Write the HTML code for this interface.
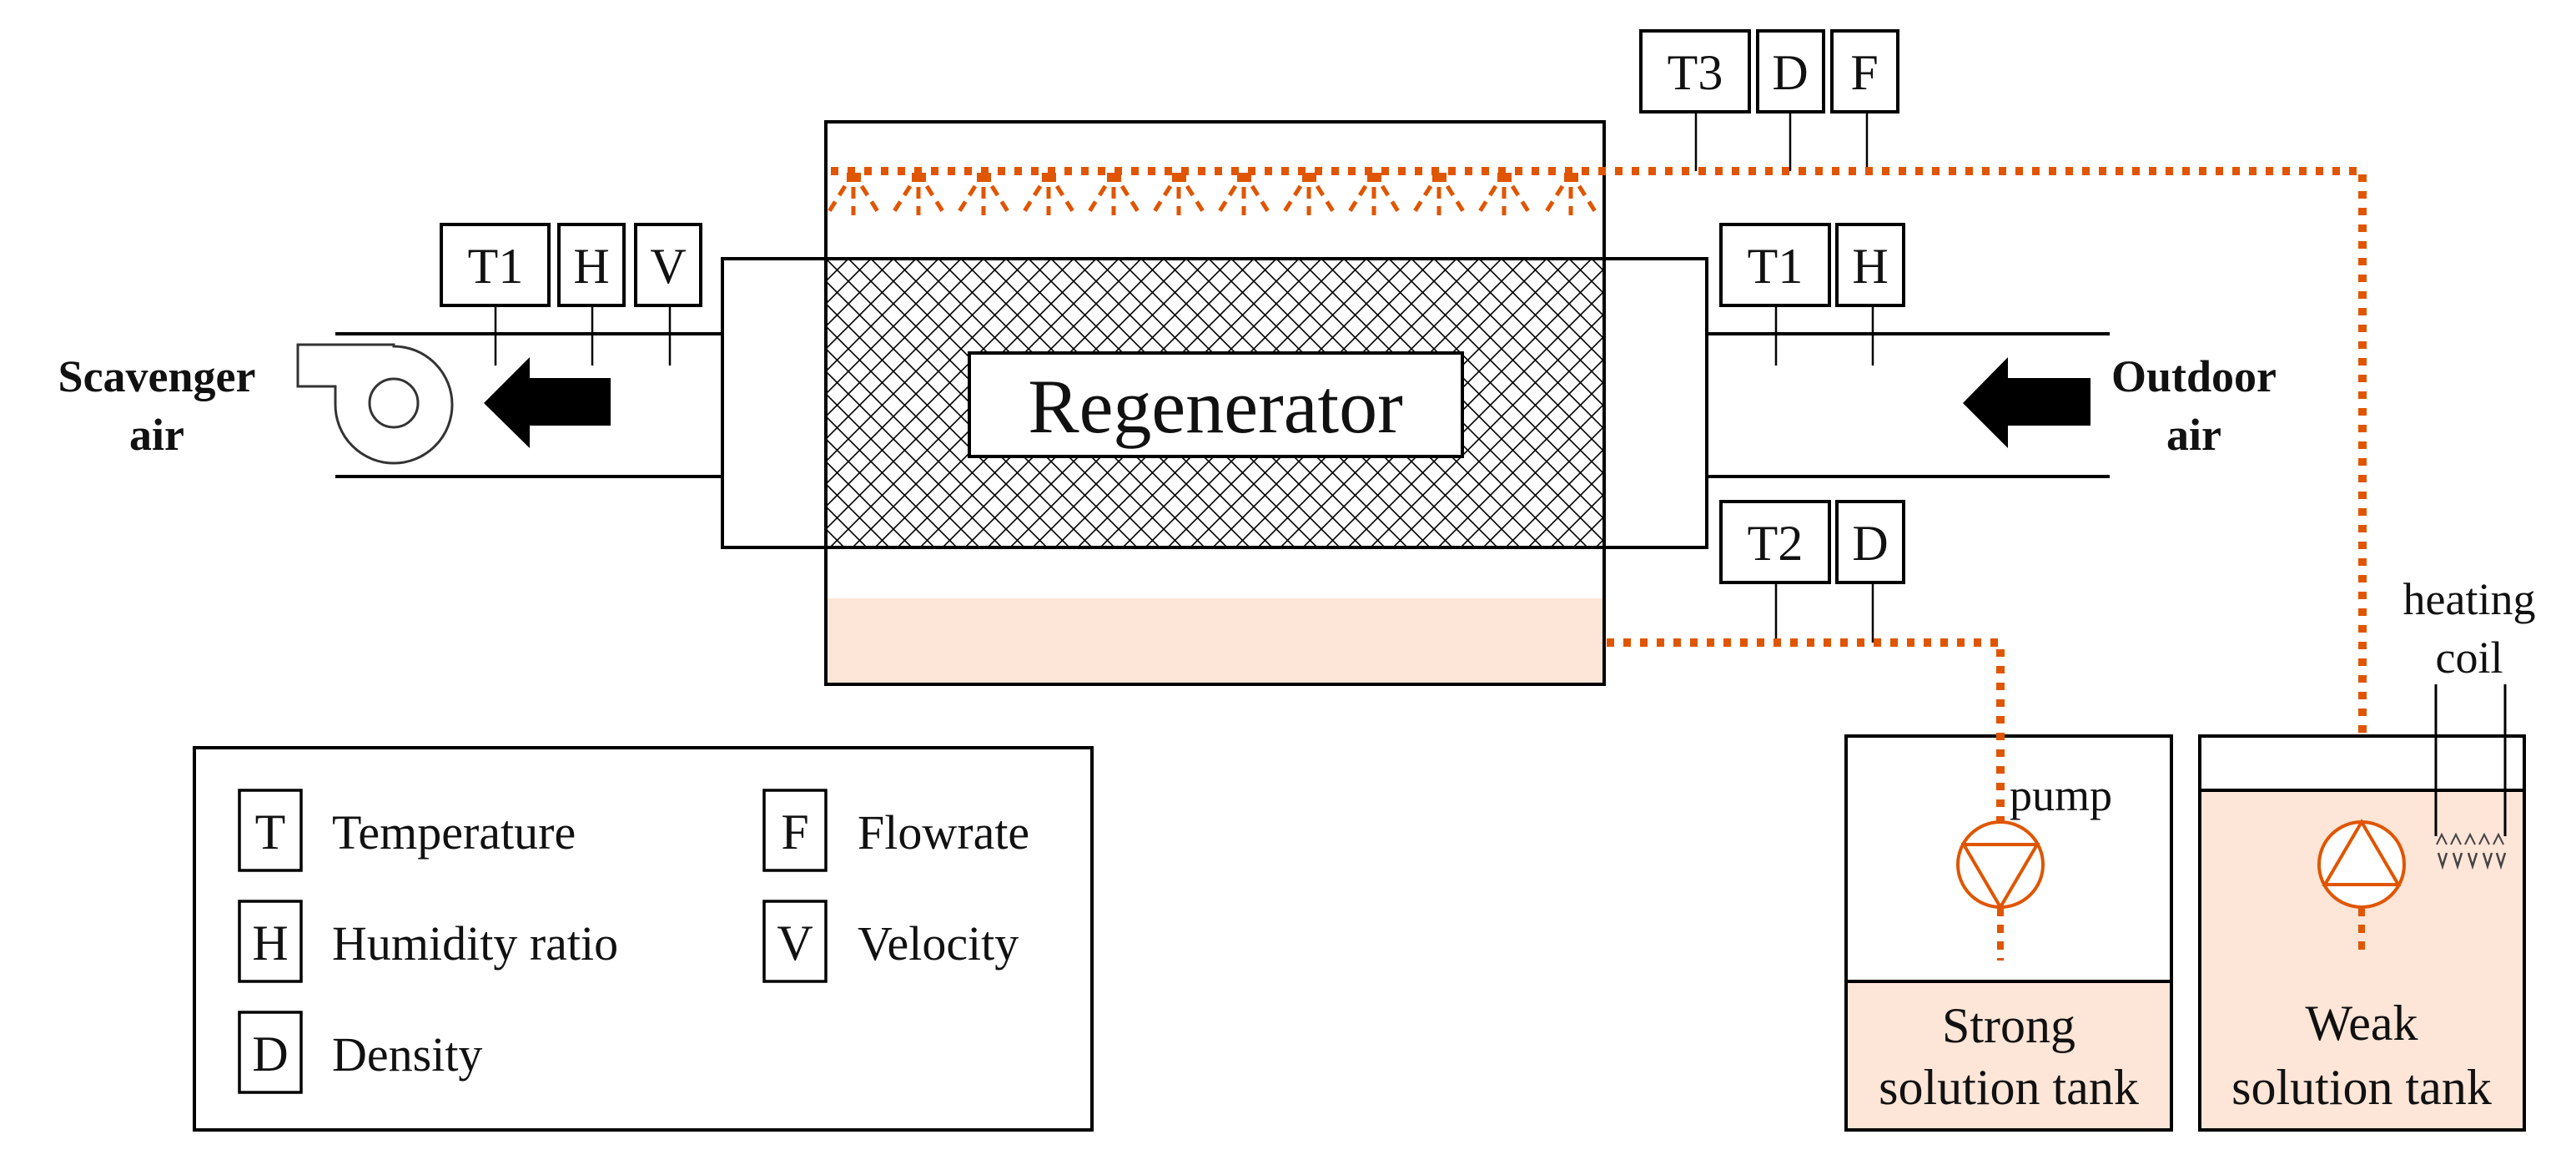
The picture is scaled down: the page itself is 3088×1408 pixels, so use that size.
<!DOCTYPE html>
<html><head><meta charset="utf-8"><style>
html,body{margin:0;padding:0;background:#fff;}
svg{display:block;}
text{font-family:"Liberation Serif",serif;fill:#111;}
</style></head><body>
<svg width="3088" height="1408" viewBox="0 0 3088 1408" xmlns="http://www.w3.org/2000/svg">
<defs>
<pattern id="hatch" x="990" y="310" width="27" height="27" patternUnits="userSpaceOnUse">
<path d="M0,0 L27,27 M27,0 L0,27" stroke="#000" stroke-width="1.6" fill="none"/>
</pattern>
<g id="noz">
<rect x="-8" y="207" width="17" height="11" fill="#e05500"/>
<path d="M0,224 L0,238 M0,247 L0,258" stroke="#e05500" stroke-width="5"/>
<path d="M-10,223 L-32,258" stroke="#e05500" stroke-width="5" stroke-dasharray="13 9"/>
<path d="M10,223 L32,258" stroke="#e05500" stroke-width="5" stroke-dasharray="13 9"/>
</g>
</defs>

<!-- Regenerator -->
<rect x="990" y="146" width="933" height="674" fill="#fff" stroke="#000" stroke-width="4"/>
<rect x="992" y="717" width="929" height="101" fill="#fde5d7"/>
<rect x="990" y="310" width="933" height="346" fill="url(#hatch)" stroke="#000" stroke-width="4"/>
<rect x="990" y="656" width="933" height="164" fill="none" stroke="#000" stroke-width="4"/>
<rect x="1162" y="423" width="591" height="124" fill="#fff" stroke="#000" stroke-width="4"/>
<text x="1457" y="518" font-size="92" text-anchor="middle">Regenerator</text>

<!-- ducts -->
<rect x="866" y="310" width="124" height="346" fill="none" stroke="#000" stroke-width="4"/>
<rect x="1923" y="310" width="123" height="346" fill="none" stroke="#000" stroke-width="4"/>
<path d="M402,400 H866 M402,571 H866 M2046,400 H2529 M2046,571 H2529" stroke="#000" stroke-width="4"/>

<!-- sensors left -->
<g fill="#fff" stroke="#000" stroke-width="4">
<rect x="529" y="269" width="129" height="97"/>
<rect x="670" y="269" width="78" height="97"/>
<rect x="762" y="269" width="78" height="97"/>
<rect x="2063" y="269" width="130" height="97"/>
<rect x="2202" y="269" width="80" height="97"/>
<rect x="2063" y="601" width="130" height="97"/>
<rect x="2202" y="601" width="80" height="97"/>
<rect x="1967" y="37" width="130" height="97"/>
<rect x="2107" y="37" width="79" height="97"/>
<rect x="2196" y="37" width="79" height="97"/>
</g>
<path d="M594,366 V438 M710,366 V438 M803,366 V438 M2129,366 V438 M2245,366 V438 M2129,698 V770 M2245,698 V770 M2033,134 V205 M2146,134 V205 M2238,134 V205" stroke="#000" stroke-width="2.5"/>
<g font-size="60" text-anchor="middle">
<text x="594" y="339">T1</text><text x="709" y="339">H</text><text x="801" y="339">V</text>
<text x="2128" y="339">T1</text><text x="2242" y="339">H</text>
<text x="2128" y="671">T2</text><text x="2242" y="671">D</text>
<text x="2032" y="107">T3</text><text x="2146" y="107">D</text><text x="2235" y="107">F</text>
</g>

<!-- fan -->
<path d="M472,415 A70,70 0 1 1 402,485 V463 H357 V413 H472 Z" fill="#fff" stroke="#333" stroke-width="3"/>
<circle cx="472" cy="483" r="29" fill="#fff" stroke="#333" stroke-width="3"/>
<!-- arrows -->
<path d="M580,483 L635,428 V453 H732 V510 H635 V537 Z" fill="#000"/>
<path d="M2353,483 L2407,428 V453 H2506 V510 H2407 V537 Z" fill="#000"/>
<g font-size="54" font-weight="bold" text-anchor="middle">
<text x="188" y="469">Scavenger</text><text x="188" y="539">air</text>
<text x="2630" y="469">Outdoor</text><text x="2630" y="539">air</text>
</g>

<!-- spray line -->
<path d="M996,205 H2832 V986" stroke="#e05500" stroke-width="10" fill="none" stroke-dasharray="9 11"/>
<g>
<use href="#noz" x="1023"/><use href="#noz" x="1101"/><use href="#noz" x="1179"/><use href="#noz" x="1257"/>
<use href="#noz" x="1335"/><use href="#noz" x="1413"/><use href="#noz" x="1491"/><use href="#noz" x="1569"/>
<use href="#noz" x="1647"/><use href="#noz" x="1725"/><use href="#noz" x="1803"/><use href="#noz" x="1883"/>
</g>

<!-- tanks -->
<rect x="2213" y="882" width="390" height="472" fill="#fff" stroke="#000" stroke-width="4"/>
<rect x="2213" y="1176" width="390" height="178" fill="#fde5d7" stroke="#000" stroke-width="4"/>
<rect x="2637" y="882" width="389" height="472" fill="#fff" stroke="#000" stroke-width="4"/>
<rect x="2637" y="947" width="389" height="407" fill="#fde5d7" stroke="#000" stroke-width="4"/>

<!-- bottom solution line -->
<path d="M1926,770 H2398 V986" stroke="#e05500" stroke-width="10" fill="none" stroke-dasharray="9 11"/>
<path d="M2398,1088 V1151" stroke="#e05500" stroke-width="8" fill="none" stroke-dasharray="10 10"/>
<path d="M2831,1088 V1138" stroke="#e05500" stroke-width="8" fill="none" stroke-dasharray="10 10"/>
<!-- pumps -->
<circle cx="2398" cy="1036" r="51" fill="#fff" stroke="#e05500" stroke-width="4"/>
<path d="M2354,1012 H2442 L2398,1087 Z" fill="none" stroke="#e05500" stroke-width="4"/>
<circle cx="2831" cy="1036" r="51" fill="#fff" stroke="#e05500" stroke-width="4"/>
<path d="M2787,1060 H2875 L2831,985 Z" fill="none" stroke="#e05500" stroke-width="4"/>
<text x="2409" y="971" font-size="54">pump</text>

<!-- heating coil -->
<path d="M2920,820 V1002 M3003,820 V1002" stroke="#000" stroke-width="3"/>
<path d="M2921,1012 L2927,1000 L2933,1012 M2938,1012 L2944,1000 L2950,1012 M2955,1012 L2961,1000 L2967,1012 M2972,1012 L2978,1000 L2984,1012 M2989,1012 L2995,1000 L3001,1012" stroke="#444" stroke-width="2" fill="none"/>
<path d="M2923,1022 L2928,1038 L2933,1022 M2941,1022 L2946,1038 L2951,1022 M2959,1022 L2964,1038 L2969,1022 M2977,1022 L2982,1038 L2987,1022 M2993,1022 L2998,1038 L3003,1022" stroke="#444" stroke-width="2.5" fill="none"/>
<g font-size="54" text-anchor="middle">
<text x="2960" y="736">heating</text><text x="2960" y="806">coil</text>
</g>
<g font-size="60" text-anchor="middle">
<text x="2408" y="1249">Strong</text><text x="2408" y="1323">solution tank</text>
<text x="2831" y="1246">Weak</text><text x="2831" y="1323">solution tank</text>
</g>

<!-- legend -->
<rect x="233" y="896" width="1076" height="458" fill="#fff" stroke="#000" stroke-width="4"/>
<g fill="#fff" stroke="#000" stroke-width="3.5">
<rect x="287" y="947" width="74" height="96"/>
<rect x="287" y="1080" width="74" height="96"/>
<rect x="287" y="1213" width="74" height="96"/>
<rect x="916" y="947" width="74" height="96"/>
<rect x="916" y="1080" width="74" height="96"/>
</g>
<g font-size="60" text-anchor="middle">
<text x="324" y="1017">T</text><text x="324" y="1150">H</text><text x="324" y="1283">D</text>
<text x="953" y="1017">F</text><text x="953" y="1150">V</text>
</g>
<g font-size="58">
<text x="398" y="1017">Temperature</text>
<text x="398" y="1150">Humidity ratio</text>
<text x="398" y="1283">Density</text>
<text x="1028" y="1017">Flowrate</text>
<text x="1028" y="1150">Velocity</text>
</g>
</svg>
</body></html>
